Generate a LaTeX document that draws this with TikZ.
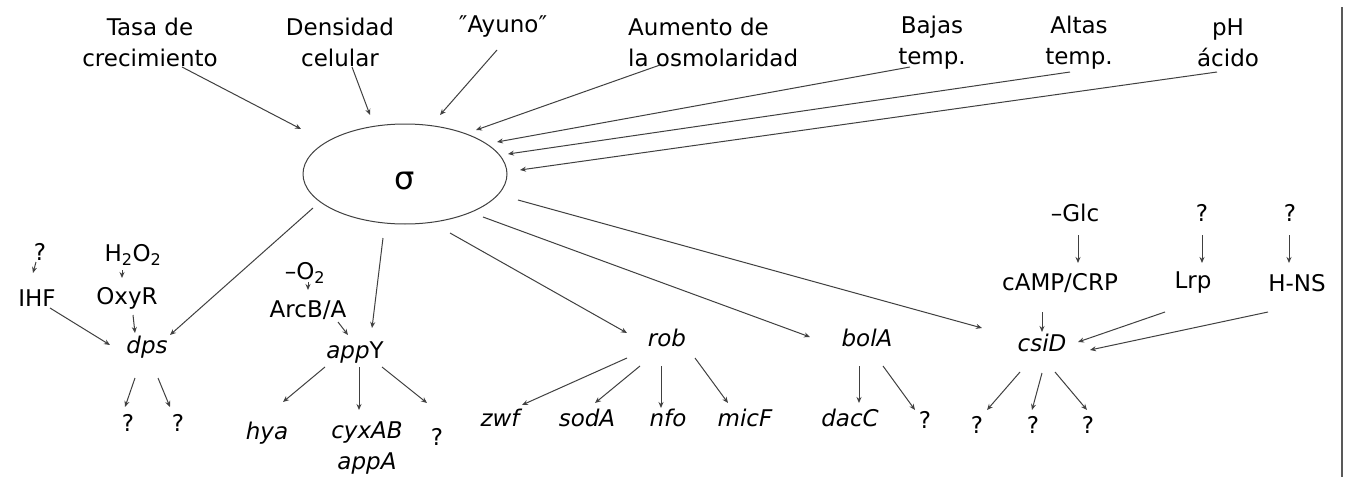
\documentclass[tikz,border=0pt]{standalone}
\usepackage{fontspec}
\setmainfont{DejaVu Sans}
\usetikzlibrary{arrows.meta,shapes.geometric}

\begin{document}
\begin{tikzpicture}[x=1pt,y=-1pt,
  every node/.style={inner sep=0pt, text=black, font=\fontsize{23}{31}\selectfont},
  lbl/.style={align=center},
  gene/.style={font=\fontsize{23}{31}\selectfont\itshape},
  arr/.style={draw=black!75, line width=1pt, -{Stealth[length=6pt,width=5pt]}}]
\useasboundingbox (0,0) rectangle (1347,479);
\fill[white] (0,0) rectangle (1347,479);

% right-hand frame rule
\draw[black!65, line width=2pt] (1342,7) -- (1342,477);

% sigma factor
\node[draw=black!75, line width=1pt, ellipse, minimum width=204pt, minimum height=100pt,
      text height=30pt, text depth=0pt, font=\fontsize{32}{32}\selectfont] (sigma) at (405,174) {σ};

% environmental signals
\node[lbl] (tasa)  at (150,42.5) {Tasa de\\crecimiento};
\node[lbl] (dens)  at (340,42.5) {Densidad\\celular};
\node      (ayuno) at (503,27)   {″Ayuno″};
\node[align=left, anchor=west] (aum) at (628,42.5) {Aumento de\\la osmolaridad};
\node[lbl] (bajas) at (932,42.5)  {Bajas\\temp.};
\node[lbl] (altas) at (1079,42.5) {Altas\\temp.};
\node[lbl] (ph)    at (1228,42.5) {pH\\ácido};

\draw[arr] ([shift={(32,24.5)}]tasa.center)  -- ([shift={(-104,-45)}]sigma.center);
\draw[arr] ([shift={(12,24.5)}]dens.center)  -- ([shift={(-35,-59)}]sigma.center);
\draw[arr] ([shift={(-6,23)}]ayuno.center)   -- ([shift={(35,-59)}]sigma.center);
\draw[arr] ([shift={(32,22.5)}]aum.west)     -- ([shift={(71,-44)}]sigma.center);
\draw[arr] ([shift={(-22,24.5)}]bajas.center) -- ([shift={(92,-32)}]sigma.center);
\draw[arr] ([shift={(-9,29.5)}]altas.center)  -- ([shift={(103,-20)}]sigma.center);
\draw[arr] ([shift={(-11,29.5)}]ph.center)    -- ([shift={(115,-4)}]sigma.center);

% dps branch
\node (q1)   at (40,252)  {?};
\node (ihf)  at (37,298)  {IHF};
\node (h2o2) at (133,255) {H\textsubscript{2}O\textsubscript{2}};
\node (oxyr) at (127,298) {OxyR};
\node[gene] (dps) at (147,347) {dps};
\node (qd1)  at (128,423) {?};
\node (qd2)  at (178,423) {?};

\draw[arr] ([shift={(-92,34)}]sigma.center) -- ([shift={(23,-12)}]dps.center);
\draw[arr] ([shift={(-4,10)}]q1.center)     -- ([shift={(-4,-25)}]ihf.center);
\draw[arr] ([shift={(-11,15)}]h2o2.center)  -- ([shift={(-5,-20)}]oxyr.center);
\draw[arr] ([shift={(13,10)}]ihf.center)    -- ([shift={(-37,-2)}]dps.center);
\draw[arr] ([shift={(6,17)}]oxyr.center)    -- ([shift={(-12,-14)}]dps.center);
\draw[arr] ([shift={(-12,31)}]dps.center)   -- ([shift={(-3,-16)}]qd1.center);
\draw[arr] ([shift={(11,31)}]dps.center)    -- ([shift={(-8,-16)}]qd2.center);

% appY branch
\node (o2)    at (305,273) {–O\textsubscript{2}};
\node (arcba) at (308,310) {ArcB/A};
\node (appy)  at (355,353) {{\itshape app}Y};
\node[gene] (hya) at (267,433) {hya};
\node[gene, lbl] (cyx) at (367,448) {cyxAB\\appA};
\node (qa)    at (437,437) {?};

\draw[arr] ([shift={(-22,64)}]sigma.center) -- ([shift={(17,-25)}]appy.center);
\draw[arr] ([shift={(3,9)}]o2.center)       -- ([shift={(0,-20)}]arcba.center);
\draw[arr] ([shift={(30,12)}]arcba.center)  -- ([shift={(-7,-18)}]appy.center);
\draw[arr] ([shift={(-30,14)}]appy.center)  -- ([shift={(16,-31)}]hya.center);
\draw[arr] ([shift={(4,14)}]appy.center)    -- ([shift={(-8,-38)}]cyx.center);
\draw[arr] ([shift={(27,14)}]appy.center)   -- ([shift={(-10,-34)}]qa.center);

% rob branch
\node[gene] (rob)  at (667,338) {rob};
\node[gene] (zwf)  at (500,418) {zwf};
\node[gene] (soda) at (587,418) {sodA};
\node[gene] (nfo)  at (668,418) {nfo};
\node[gene] (micf) at (745,418) {micF};

\draw[arr] ([shift={(45,59)}]sigma.center) -- ([shift={(-40,-5)}]rob.center);
\draw[arr] ([shift={(-40,20)}]rob.center)  -- ([shift={(22,-13)}]zwf.center);
\draw[arr] ([shift={(-27,28)}]rob.center)  -- ([shift={(8,-15)}]soda.center);
\draw[arr] ([shift={(-6,28)}]rob.center)   -- ([shift={(-7,-10)}]nfo.center);
\draw[arr] ([shift={(28,20)}]rob.center)   -- ([shift={(-17,-15)}]micf.center);

% bolA branch
\node[gene] (bola) at (867,338) {bolA};
\node[gene] (dacc) at (850,418) {dacC};
\node (qb) at (925,420) {?};

\draw[arr] ([shift={(78,43)}]sigma.center) -- ([shift={(-57,-1)}]bola.center);
\draw[arr] ([shift={(-8,28)}]bola.center)  -- ([shift={(9,-15)}]dacc.center);
\draw[arr] ([shift={(16,28)}]bola.center)  -- ([shift={(-10,-10)}]qb.center);

% csiD branch
\node (glc)  at (1075,213) {–Glc};
\node (camp) at (1060,283) {cAMP/CRP};
\node (ql)   at (1202,213) {?};
\node (lrp)  at (1193,283) {Lrp};
\node (qh)   at (1290,213) {?};
\node (hns)  at (1297,283) {H-NS};
\node[gene] (csid) at (1042,343) {csiD};
\node (qc1) at (977,425)  {?};
\node (qc2) at (1033,425) {?};
\node (qc3) at (1088,425) {?};

\draw[arr] ([shift={(113,26)}]sigma.center) -- ([shift={(-60,-15)}]csid.center);
\draw[arr] ([shift={(3,22)}]glc.center)     -- ([shift={(18,-20)}]camp.center);
\draw[arr] ([shift={(0,22)}]ql.center)      -- ([shift={(9,-20)}]lrp.center);
\draw[arr] ([shift={(-1,22)}]qh.center)     -- ([shift={(-8,-20)}]hns.center);
\draw[arr] ([shift={(-18,29)}]camp.center)  -- ([shift={(0,-11)}]csid.center);
\draw[arr] ([shift={(-28,29)}]lrp.center)   -- ([shift={(36,-1)}]csid.center);
\draw[arr] ([shift={(-29,29)}]hns.center)   -- ([shift={(48,7)}]csid.center);
\draw[arr] ([shift={(-22,29)}]csid.center)  -- ([shift={(10,-15)}]qc1.center);
\draw[arr] ([shift={(0,30)}]csid.center)    -- ([shift={(-1,-15)}]qc2.center);
\draw[arr] ([shift={(13,29)}]csid.center)   -- ([shift={(-1,-15)}]qc3.center);
\end{tikzpicture}
\end{document}
